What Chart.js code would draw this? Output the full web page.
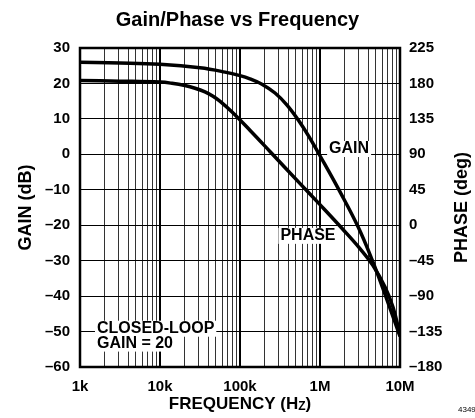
<!DOCTYPE html>
<html>
<head>
<meta charset="utf-8">
<script src="https://cdn.jsdelivr.net/npm/chart.js@4"></script>
<style>
  html, body { margin: 0; padding: 0; background: #fff; }
  canvas { display: block; }
</style>
</head>
<body>
<canvas id="myChart" width="475" height="418"></canvas>
<script>
// values
const gainFreq = [1e3, 3.16e3, 1e4, 3.16e4, 6.5e4, 1e5, 1.33e5, 1.88e5, 2.74e5, 3.87e5, 5.62e5, 7.5e5, 1e6, 1.78e6, 3e6, 4.47e6, 6.5e6, 1e7];
const gainDb   = [26, 25.8, 25.4, 24.4, 23.2, 22.2, 21.3, 19.8, 17.3, 13.9, 9, 4.5, -0.4, -10.6, -20.5, -29.7, -39.5, -51.4];

const phaseFreq = [1e3, 3.16e3, 1e4, 1.41e4, 2.05e4, 2.74e4, 3.65e4, 4.6e4, 5.6e4, 7.9e4, 1.33e5, 2.37e5, 5.6e5, 1e6, 1.94e6, 3.16e6, 4.6e6, 6.5e6, 8.2e6, 1e7];
const phaseDeg  = [183.6, 182.9, 181.8, 180.2, 177.3, 173.9, 169.2, 163.8, 157.5, 144, 120.6, 93.6, 53.1, 26.1, -5.4, -29.7, -51.3, -78.3, -104.4, -139];

const freqTicks = [1e3, 1e4, 1e5, 1e6, 1e7];
const freqTickLabels = ['1k', '10k', '100k', '1M', '10M'];

const font = '"Liberation Sans", Arial, Helvetica, sans-serif';
const dash = v => v < 0 ? '\u2013' + Math.abs(v) : String(v);
const isDecade = v => Math.abs(Math.log10(v) - Math.round(Math.log10(v))) < 1e-9;

function toPoints(xs, ys) {
  return xs.map((x, i) => ({ x: x, y: ys[i] }));
}

// text labels inside the plot (placed in data units)
const notes = [
  { text: 'GAIN', f: 1.3e6, db: 1.5 },
  { text: 'PHASE', f: 3.2e5, db: -23 },
  { text: 'CLOSED-LOOP', f: 1.63e3, db: -49.2 },
  { text: 'GAIN = 20', f: 1.63e3, db: -53.4 }
];

const decor = {
  id: 'decor',
  beforeDatasetsDraw(chart) {
    const ctx = chart.ctx, x = chart.scales.x, y = chart.scales.y;
    ctx.save();
    ctx.font = 'bold 16px ' + font;
    ctx.textBaseline = 'middle';
    ctx.textAlign = 'left';
    notes.forEach(n => {
      const px = x.getPixelForValue(n.f), py = y.getPixelForValue(n.db);
      const w = ctx.measureText(n.text).width;
      ctx.fillStyle = '#fff';
      ctx.fillRect(px - 2, py - 8, w + 4, 16);
      ctx.fillStyle = '#000';
      ctx.fillText(n.text, px, py);
    });
    ctx.restore();
  },
  afterDraw(chart) {
    const ctx = chart.ctx, a = chart.chartArea;
    ctx.save();
    ctx.lineWidth = 2.5;
    ctx.strokeStyle = '#000';
    ctx.strokeRect(a.left, a.top, a.right - a.left, a.bottom - a.top);

    ctx.fillStyle = '#000';
    ctx.font = 'bold 18px ' + font;
    ctx.textAlign = 'center';
    ctx.textBaseline = 'middle';
    const midY = (a.top + a.bottom) / 2;
    [['GAIN (dB)', 26], ['PHASE (deg)', 462]].forEach(([t, cx]) => {
      ctx.save();
      ctx.translate(cx, midY);
      ctx.rotate(-Math.PI / 2);
      ctx.fillText(t, 0, 0);
      ctx.restore();
    });

    // FREQUENCY (Hz) with subscript z
    const main = 'FREQUENCY (H', sub = 'Z', close = ')';
    ctx.font = 'bold 17px ' + font;
    const wMain = ctx.measureText(main).width, wClose = ctx.measureText(close).width;
    ctx.font = 'bold 12px ' + font;
    const wSub = ctx.measureText(sub).width;
    const total = wMain + wSub + wClose;
    let sx = (a.left + a.right) / 2 - total / 2;
    const ty = 404;
    ctx.textAlign = 'left';
    ctx.font = 'bold 17px ' + font;
    ctx.fillText(main, sx, ty);
    sx += wMain;
    ctx.font = 'bold 12px ' + font;
    ctx.fillText(sub, sx, ty + 3);
    sx += wSub;
    ctx.font = 'bold 17px ' + font;
    ctx.fillText(close, sx, ty);

    ctx.font = '8px ' + font;
    ctx.fillText('4349', 458, 410);
    ctx.restore();
  }
};

const ctx = document.getElementById('myChart').getContext('2d');

const myChart = new Chart(ctx, {
  type: 'line',
  data: {
    datasets: [{
      label: 'GAIN',
      data: toPoints(gainFreq, gainDb),
      yAxisID: 'y',
      borderColor: '#000',
      borderWidth: 3.5,
      pointRadius: 0,
      fill: false,
      tension: 0.4
    }, {
      label: 'PHASE',
      data: toPoints(phaseFreq, phaseDeg),
      yAxisID: 'y2',
      borderColor: '#000',
      borderWidth: 3.5,
      pointRadius: 0,
      fill: false,
      tension: 0.4
    }]
  },
  options: {
    responsive: false,
    animation: false,
    layout: { padding: 0 },
    plugins: {
      legend: { display: false },
      tooltip: { enabled: false },
      title: {
        display: true,
        text: 'Gain/Phase vs Frequency',
        color: '#000',
        font: { family: font, size: 20, weight: 'bold' },
        padding: { top: 8, bottom: 16 }
      }
    },
    scales: {
      x: {
        type: 'logarithmic',
        min: 1e3,
        max: 1e7,
        afterBuildTicks: scale => {
          const t = [];
          for (let d = 1e3; d < 1e7; d *= 10) {
            for (let m = 1; m < 10; m++) t.push({ value: m * d });
          }
          t.push({ value: 1e7 });
          scale.ticks = t;
        },
        afterFit: scale => { scale.height = 51; },
        border: { display: false },
        grid: {
          drawTicks: false,
          color: c => isDecade(c.tick.value) ? '#000' : '#333',
          lineWidth: c => isDecade(c.tick.value) ? 2 : 1
        },
        ticks: {
          autoSkip: false,
          maxRotation: 0,
          padding: 11,
          color: '#000',
          font: { family: font, size: 15, weight: 'bold' },
          callback: v => {
            const i = freqTicks.findIndex(f => Math.abs(f - v) < 1e-6 * f);
            return i >= 0 ? freqTickLabels[i] : '';
          }
        }
      },
      y: {
        position: 'left',
        min: -60,
        max: 30,
        afterFit: scale => { scale.width = 80; },
        border: { display: false },
        grid: { drawTicks: false, color: '#000', lineWidth: 1 },
        ticks: {
          stepSize: 10,
          padding: 10,
          color: '#000',
          font: { family: font, size: 15, weight: 'bold' },
          callback: v => dash(v)
        }
      },
      y2: {
        position: 'right',
        min: -180,
        max: 225,
        afterFit: scale => { scale.width = 75; },
        border: { display: false },
        grid: { drawOnChartArea: false, drawTicks: false },
        ticks: {
          stepSize: 45,
          padding: 9,
          color: '#000',
          font: { family: font, size: 15, weight: 'bold' },
          callback: v => dash(v)
        }
      }
    }
  },
  plugins: [decor]
});
</script>
</body>
</html>
